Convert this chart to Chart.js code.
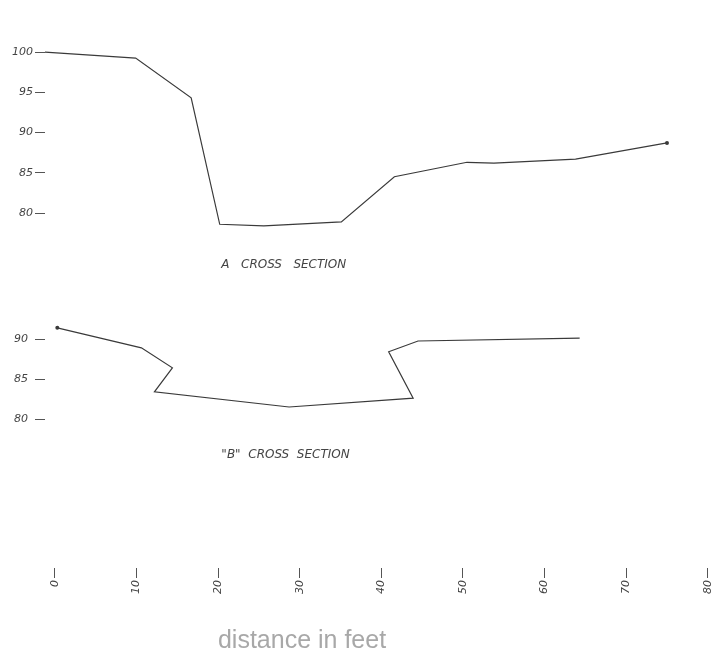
<!DOCTYPE html>
<html>
<head>
<meta charset="utf-8">
<script src="https://cdn.jsdelivr.net/npm/chart.js@4.4.1/dist/chart.umd.min.js"></script>
<style>
  html, body { margin: 0; padding: 0; background: #fff; }
</style>
</head>
<body>
<canvas id="chart" width="723" height="656"></canvas>
<script>
// distance across the channel (feet) and ground level
const distA = [-1.5, 9.9, 16.7, 20.2, 25.6, 35.1, 41.6, 50.5, 53.8, 63.8, 75.0]
const elevA = [100.0, 99.25, 94.3, 78.6, 78.4, 78.9, 84.5, 86.3, 86.2, 86.7, 88.7]
const distB = [0.3, 10.6, 14.4, 12.2, 28.7, 43.9, 40.9, 44.5, 64.3]
const elevB = [91.4, 88.9, 86.4, 83.4, 81.5, 82.6, 88.4, 89.75, 90.1]

const xTicks = [0, 10, 20, 30, 40, 50, 60, 70, 80]
const yTicksA = [80, 85, 90, 95, 100]
const yTicksB = [80, 85, 90]

const captionA = 'A   CROSS   SECTION'
const captionB = '"B"  CROSS  SECTION'
const xTitle = 'distance in feet'

const pencil = '#3a3a3a'
const handFont = { family: 'DejaVu Sans', style: 'italic', size: 11 }

const toPoints = (xs, ys) => xs.map((x, i) => ({ x, y: ys[i] }))

// both y scales run the full height, placed so each sketch sits where it was drawn
const areaTop = 10
const areaBottom = 568
const rangeFrom = (value, atPx, pxPerUnit) => ({
  min: value - (areaBottom - atPx) / pxPerUnit,
  max: value + (atPx - areaTop) / pxPerUnit
})
const rangeA = rangeFrom(100, 52, 8.05)
const rangeB = rangeFrom(90, 339, 8.0)

const captions = {
  id: 'captions',
  afterDatasetsDraw (chart) {
    const { ctx, scales: { x, yA, yB } } = chart
    ctx.save()
    ctx.font = 'italic 12px "DejaVu Sans"'
    ctx.fillStyle = '#444'
    ctx.textBaseline = 'middle'
    ctx.fillText(captionA, x.getPixelForValue(20.4), yA.getPixelForValue(73.5))
    ctx.fillText(captionB, x.getPixelForValue(20.4), yB.getPixelForValue(75.5))
    ctx.font = '25px "Liberation Sans", Arial, sans-serif'
    ctx.fillStyle = '#a8a8a8'
    ctx.textAlign = 'center'
    ctx.fillText(xTitle, 302, 641)
    ctx.restore()
  }
}

const handAxis = (ticks, range, width, weight, mirror) => ({
  type: 'linear',
  position: 'left',
  weight,
  min: range.min,
  max: range.max,
  afterBuildTicks: scale => { scale.ticks = ticks.map(v => ({ value: v })) },
  afterFit: scale => { scale.width = width },
  border: { display: false },
  grid: { drawOnChartArea: false, drawTicks: true, tickLength: 10, color: '#555' },
  ticks: mirror
    ? { color: '#444', font: handFont, mirror: true, crossAlign: 'near', padding: -31 }
    : { color: '#444', font: handFont, padding: 2 }
})

new Chart(document.getElementById('chart'), {
  type: 'scatter',
  data: {
    datasets: [
      {
        label: 'A cross section',
        data: toPoints(distA, elevA),
        yAxisID: 'yA',
        showLine: true,
        borderColor: pencil,
        borderWidth: 1.2,
        pointRadius: distA.map((d, i) => i === distA.length - 1 ? 2 : 0),
        pointBackgroundColor: pencil,
        pointBorderWidth: 0
      },
      {
        label: 'B cross section',
        data: toPoints(distB, elevB),
        yAxisID: 'yB',
        showLine: true,
        borderColor: pencil,
        borderWidth: 1.2,
        pointRadius: distB.map((d, i) => i === 0 ? 2 : 0),
        pointBackgroundColor: pencil,
        pointBorderWidth: 0
      }
    ]
  },
  options: {
    responsive: false,
    animation: false,
    layout: { padding: { top: areaTop, right: 3, left: 0, bottom: 0 } },
    plugins: {
      legend: { display: false },
      tooltip: { enabled: false }
    },
    scales: {
      x: {
        type: 'linear',
        min: -10 / 8.275,
        max: 80 + 3 / 8.275,
        afterBuildTicks: scale => { scale.ticks = xTicks.map(v => ({ value: v })) },
        afterFit: scale => { scale.height = 656 - areaBottom },
        border: { display: false },
        grid: { drawOnChartArea: false, drawTicks: true, tickLength: 10, color: '#555' },
        ticks: { color: '#444', font: handFont, padding: 2, minRotation: 90, maxRotation: 90 }
      },
      yA: handAxis(yTicksA, rangeA, 45, 1, false),
      yB: handAxis(yTicksB, rangeB, 0, 0, true)
    }
  },
  plugins: [captions]
})
</script>
</body>
</html>
